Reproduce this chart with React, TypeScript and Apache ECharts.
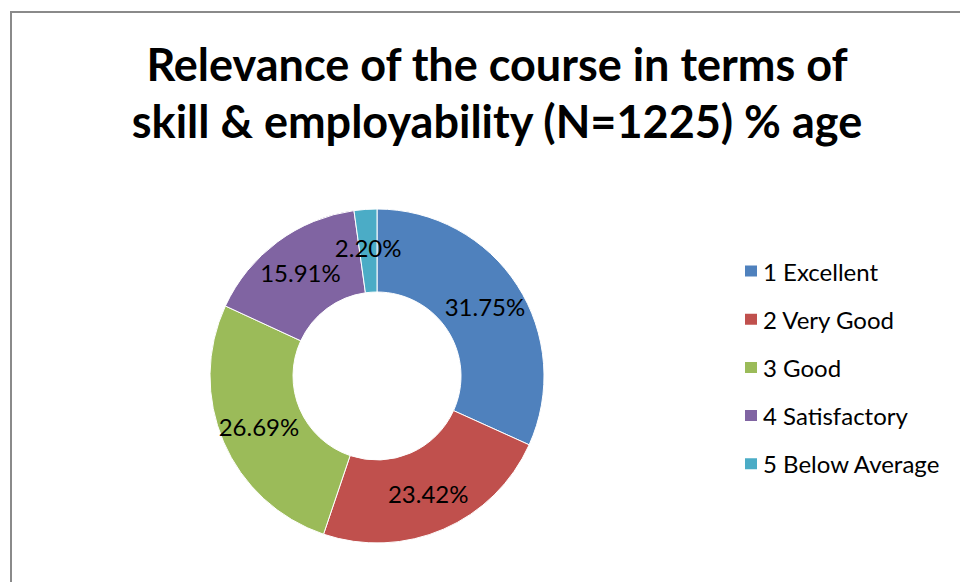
import React, { useEffect, useRef } from "react";
import * as echarts from "echarts";

const categories = ["1 Excellent", "2 Very Good", "3 Good", "4 Satisfactory", "5 Below Average"];
const values = [31.75, 23.42, 26.69, 15.91, 2.2];
const colors = ["#4F81BD", "#C0504D", "#9BBB59", "#8064A2", "#4BACC6"];
const titleText = "Relevance of the course in terms of\nskill & employability (N=1225) % age";

const FONT = 'Lato, "Open Sans", "DejaVu Sans", sans-serif';

export default function App() {
  const ref = useRef<HTMLDivElement>(null);
  useEffect(() => {
    if (!ref.current) return;
    const chart = echarts.init(ref.current, undefined, { renderer: "svg" });
    chart.setOption({
      animation: false,
      backgroundColor: "#ffffff",
      title: {
        text: titleText,
        left: 497,
        top: 35,
        padding: 0,
        textAlign: "center",
        textStyle: {
          fontFamily: FONT,
          fontWeight: "bold",
          fontSize: 45,
          lineHeight: 57,
          color: "#000",
        },
      },
      legend: {
        orient: "vertical",
        left: 743,
        top: 259,
        padding: 0,
        icon: "rect",
        itemWidth: 14,
        itemHeight: 13,
        itemGap: 24.2,
        selectedMode: false,
        textStyle: { fontFamily: FONT, fontSize: 24, lineHeight: 24, color: "#000" },
        data: categories,
      },
      graphic: [
        {
          type: "rect",
          shape: { x: 11, y: 12, width: 1000, height: 1000 },
          style: { fill: "none", stroke: "#8a8a8a", lineWidth: 2 },
          silent: true,
        },
      ],
      series: [
        {
          type: "pie",
          center: [377, 376],
          radius: [84, 167],
          startAngle: 90,
          clockwise: true,
          avoidLabelOverlap: false,
          itemStyle: { borderColor: "#ffffff", borderWidth: 1 },
          label: {
            show: true,
            position: "inside",
            color: "#000",
            fontFamily: FONT,
            fontSize: 24,
            formatter: (p: any) => Number(p.value).toFixed(2) + "%",
          },
          labelLine: { show: false },
          emphasis: { disabled: true },
          data: categories.map((name, i) => ({
            name,
            value: values[i],
            itemStyle: { color: colors[i] },
          })),
        },
      ],
    });
    return () => chart.dispose();
  }, []);
  return (
    <div
      ref={ref}
      style={{ position: "fixed", left: 0, top: 0, width: 960, height: 582 }}
    />
  );
}
